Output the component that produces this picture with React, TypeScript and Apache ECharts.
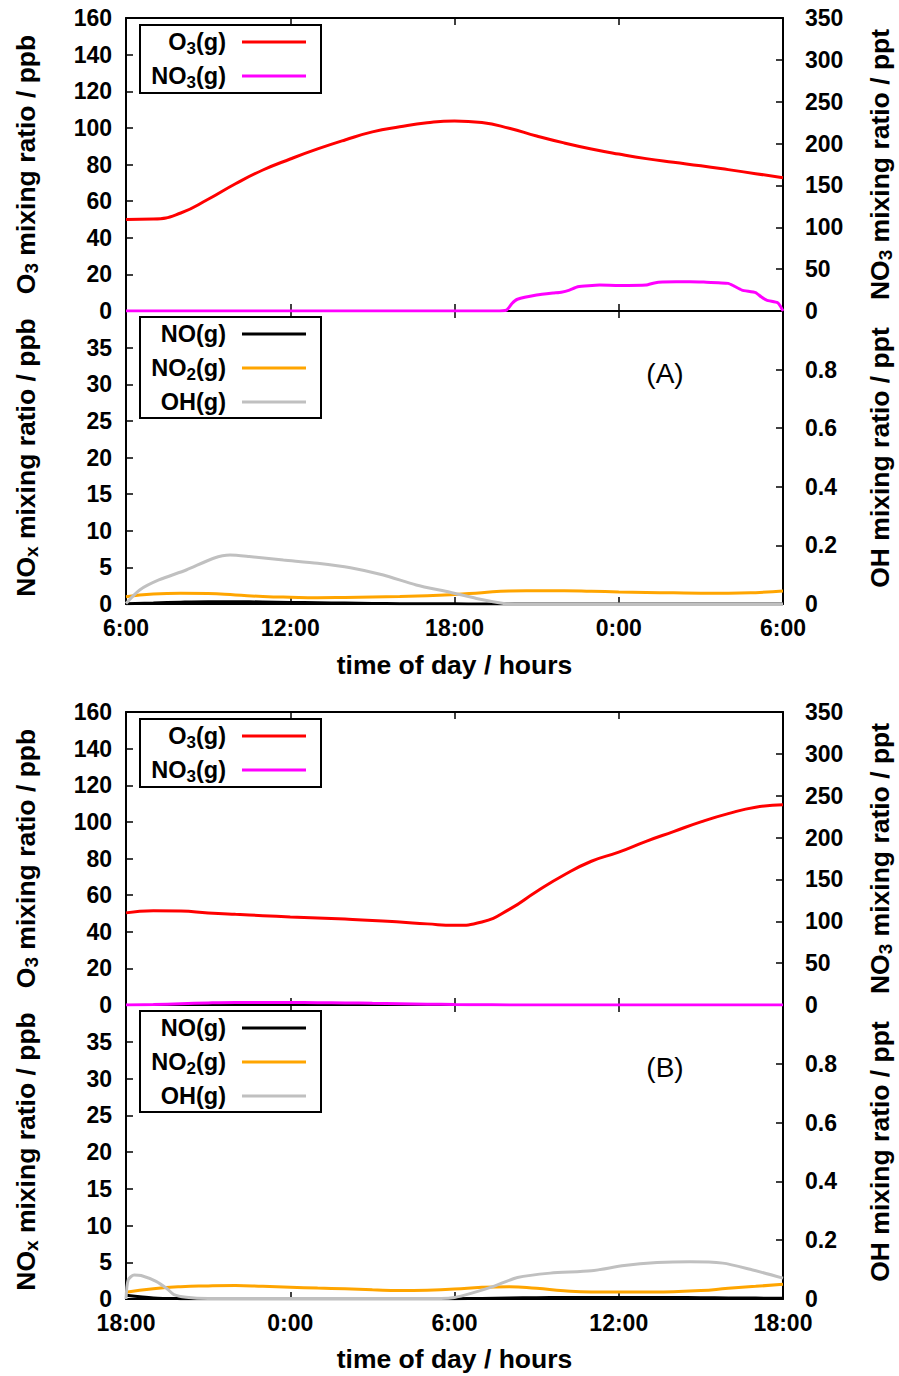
import React, { useEffect, useRef } from 'react';
import * as echarts from 'echarts';

// ---------- tick labels ----------
const xTicksA = ['6:00', '12:00', '18:00', '0:00', '6:00'];
const xTicksB = ['18:00', '0:00', '6:00', '12:00', '18:00'];

// ---------- hourly time base (hours since start of run) ----------
const hours = [0, 1, 2, 3, 4, 5, 6, 7, 8, 9, 10, 11, 12, 13, 14, 15, 16, 17, 18, 19, 20, 21, 22, 23, 24];

// ---------- Panel (A) ----------
const o3A = [50, 50.2, 53.5, 61, 69.5, 77, 83, 88.5, 93.4, 97.8, 100.6, 102.8, 103.8, 102.9, 99.8, 95.6, 91.8, 88.5, 85.7, 83.2, 81.2, 79.3, 77.2, 75, 72.8];
const no3AHours = [0, 13.5, 13.9, 14.1, 14.3, 15, 15.6, 15.9, 16.2, 16.5, 17.3, 18, 19, 19.3, 19.6, 20.6, 21.1, 22, 22.2, 22.5, 23, 23.2, 23.4, 23.8, 23.9, 24];
const no3A = [0, 0, 1, 9, 14, 19, 21.5, 22.5, 25, 29, 31, 30.5, 31, 33.5, 34.5, 35, 34.5, 33, 30, 25, 22, 17, 13, 10, 6, 0];
const noA = [0.05, 0.15, 0.25, 0.3, 0.3, 0.28, 0.22, 0.17, 0.12, 0.08, 0.05, 0.03, 0.02, 0.01, 0, 0, 0, 0, 0, 0, 0, 0, 0, 0, 0];
const no2A = [1.0, 1.35, 1.46, 1.42, 1.23, 1.03, 0.92, 0.86, 0.9, 0.97, 1.03, 1.12, 1.3, 1.55, 1.77, 1.8, 1.82, 1.75, 1.65, 1.58, 1.52, 1.47, 1.46, 1.55, 1.77];
const ohAHours = [0, 0.5, 1.2, 2.2, 3.2, 3.8, 4.5, 5.75, 7, 8.2, 9.4, 10.6, 11.84, 12.8, 13.8, 14.5, 24];
const ohA = [0.002, 0.048, 0.082, 0.116, 0.156, 0.167, 0.162, 0.15, 0.139, 0.124, 0.099, 0.065, 0.04, 0.019, 0.002, 0, 0];

// ---------- Panel (B) ----------
const o3B = [50.3, 51.5, 51.3, 50.3, 49.5, 48.8, 48.1, 47.5, 46.9, 46.2, 45.3, 44.3, 43.5, 45.3, 52.2, 62, 71, 78.5, 83.5, 89.4, 94.7, 100, 104.5, 108, 109.3];
const no3B = [0, 0.5, 1.5, 2.5, 3, 3, 3, 2.8, 2.5, 2, 1.5, 1, 0.6, 0.3, 0, 0, 0, 0, 0, 0, 0, 0, 0, 0, 0];
const noB = [0.5, 0.15, 0.05, 0.03, 0.02, 0.02, 0.02, 0.02, 0.02, 0.02, 0.02, 0.02, 0.03, 0.08, 0.15, 0.18, 0.2, 0.2, 0.2, 0.2, 0.2, 0.18, 0.15, 0.12, 0.1];
const no2B = [0.91, 1.4, 1.68, 1.78, 1.82, 1.72, 1.6, 1.48, 1.38, 1.25, 1.15, 1.2, 1.35, 1.6, 1.68, 1.45, 1.12, 0.96, 0.95, 0.96, 1.0, 1.14, 1.45, 1.72, 2.0];
const ohBHours = [0, 0.08, 0.3, 0.55, 1.1, 1.5, 1.75, 2.2, 3, 11.5, 12, 12.6, 13.4, 14.3, 15.5, 17, 18.2, 19.4, 20.6, 21.8, 22.8, 24];
const ohB = [0, 0.065, 0.082, 0.08, 0.06, 0.035, 0.015, 0.006, 0.002, 0.002, 0.005, 0.019, 0.042, 0.073, 0.088, 0.096, 0.114, 0.124, 0.127, 0.122, 0.101, 0.071];

// ---------- styling ----------
const FONT = "'Liberation Sans', Arial, Helvetica, sans-serif";
const TICK_FS = 23;
const LEG_FS = 23.5;
const TITLE_FS = 26.5;
const C_O3 = '#ff0000';
const C_NO3 = '#ff00ff';
const C_NO = '#000000';
const C_NO2 = '#ffa500';
const C_OH = '#c0c0c0';

const pair = (xs: number[], ys: number[]) => xs.map((x, i) => [x, ys[i]]);

const axisLine = { show: true, onZero: false, lineStyle: { color: '#000', width: 2 } };
const axisTick = { show: true, inside: true, length: 7, lineStyle: { color: '#000', width: 1.5 } };
const lbl = { color: '#000', fontFamily: FONT, fontWeight: 'bold', fontSize: TICK_FS };

function xAxes(grid: number, labels: string[] | null) {
  const base = {
    type: 'value', gridIndex: grid, min: 0, max: 24, interval: 6,
    axisLine, axisTick, splitLine: { show: false },
  };
  return [
    {
      ...base, position: 'bottom',
      axisLabel: labels
        ? { ...lbl, margin: 12, formatter: (v: number) => labels[Math.round(v / 6)] }
        : { show: false },
    },
    { ...base, position: 'top', axisLabel: { show: false } },
  ];
}

function yAxes(grid: number, lmax: number, lint: number, rmax: number, rint: number, hideMax: boolean) {
  const base = { type: 'value', gridIndex: grid, axisLine, axisTick, splitLine: { show: false } };
  return [
    {
      ...base, position: 'left', min: 0, max: lmax, interval: lint,
      axisLabel: { ...lbl, margin: 14, showMaxLabel: !hideMax },
    },
    {
      ...base, position: 'right', min: 0, max: rmax, interval: rint,
      axisLabel: {
        ...lbl, margin: 22, showMaxLabel: !hideMax,
        formatter: (v: number) => String(Math.round(v * 10) / 10),
      },
    },
  ];
}

function line(name: string, xi: number, yi: number, data: number[][], color: string, smooth: number) {
  return {
    name, type: 'line', xAxisIndex: xi, yAxisIndex: yi, data,
    symbol: 'none', showSymbol: false, smooth,
    lineStyle: { color, width: 3 }, itemStyle: { color },
  };
}

const rich = (fs: number) => ({
  b: { fontSize: fs, fontWeight: 'bold', fontFamily: FONT, color: '#000', lineHeight: 30, verticalAlign: 'middle' },
  s: { fontSize: Math.round(fs * 0.72), fontWeight: 'bold', fontFamily: FONT, color: '#000', lineHeight: 16, verticalAlign: 'bottom' },
});

function vTitle(x: number, y: number, text: string) {
  return {
    type: 'text', x, y, rotation: Math.PI / 2, z: 100,
    style: { text, rich: rich(TITLE_FS), align: 'center', verticalAlign: 'middle' },
  };
}

function hTitle(x: number, y: number, text: string) {
  return {
    type: 'text', x, y, z: 100,
    style: { text, fontSize: TITLE_FS, fontWeight: 'bold', fontFamily: FONT, fill: '#000', align: 'center', verticalAlign: 'middle' },
  };
}

function legend(x: number, y: number, h: number, items: { t: string; c: string }[]) {
  const children: any[] = [
    { type: 'rect', shape: { x: 0, y: 0, width: 181, height: h }, style: { fill: '#fff', stroke: '#000', lineWidth: 2 } },
  ];
  items.forEach((it, i) => {
    const dy = 17 + i * 34;
    children.push({
      type: 'text', x: 86, y: dy,
      style: { text: it.t, rich: rich(LEG_FS), align: 'right', verticalAlign: 'middle' },
    });
    children.push({
      type: 'line', shape: { x1: 102, y1: dy, x2: 166, y2: dy },
      style: { stroke: it.c, lineWidth: 3 },
    });
  });
  return { type: 'group', x, y, z: 100, children };
}

function panelLabel(x: number, y: number, text: string) {
  return {
    type: 'text', x, y, z: 100,
    style: { text, fontSize: 28, fontFamily: FONT, fill: '#000', align: 'center', verticalAlign: 'middle' },
  };
}

function buildOption() {
  const L = 126, R = 116;
  const grids = [
    { left: L, right: R, top: 18, height: 293 },
    { left: L, right: R, top: 311, height: 293 },
    { left: L, right: R, top: 712, height: 293 },
    { left: L, right: R, top: 1005, height: 294 },
  ];
  const xAxis = [
    ...xAxes(0, null), ...xAxes(1, xTicksA),
    ...xAxes(2, null), ...xAxes(3, xTicksB),
  ];
  const yAxis = [
    ...yAxes(0, 160, 20, 350, 50, false),
    ...yAxes(1, 40, 5, 1, 0.2, true),
    ...yAxes(2, 160, 20, 350, 50, false),
    ...yAxes(3, 40, 5, 1, 0.2, true),
  ];
  const series = [
    line('O3 A', 0, 0, pair(hours, o3A), C_O3, 0.5),
    line('NO3 A', 0, 1, pair(no3AHours, no3A), C_NO3, 0.15),
    line('NO A', 2, 2, pair(hours, noA), C_NO, 0.4),
    line('NO2 A', 2, 2, pair(hours, no2A), C_NO2, 0.5),
    line('OH A', 2, 3, pair(ohAHours, ohA), C_OH, 0.25),
    line('O3 B', 4, 4, pair(hours, o3B), C_O3, 0.5),
    line('NO3 B', 4, 5, pair(hours, no3B), C_NO3, 0.4),
    line('NO B', 6, 6, pair(hours, noB), C_NO, 0.3),
    line('NO2 B', 6, 6, pair(hours, no2B), C_NO2, 0.5),
    line('OH B', 6, 7, pair(ohBHours, ohB), C_OH, 0.25),
  ];
  const off = 694;
  const graphic: any[] = [];
  [0, off].forEach((o, k) => {
    graphic.push(vTitle(26, 164.5 + o, '{b|O}{s|3}{b| mixing ratio / ppb}'));
    graphic.push(vTitle(880, 164.5 + o, '{b|NO}{s|3}{b| mixing ratio / ppt}'));
    graphic.push(vTitle(26, 457.5 + o, '{b|NO}{s|x}{b| mixing ratio / ppb}'));
    graphic.push(vTitle(880, 457.5 + o, '{b|OH mixing ratio / ppt}'));
    graphic.push(hTitle(454.5, 665 + o, 'time of day / hours'));
    graphic.push(legend(140, 25 + o, 68, [
      { t: '{b|O}{s|3}{b|(g)}', c: C_O3 },
      { t: '{b|NO}{s|3}{b|(g)}', c: C_NO3 },
    ]));
    graphic.push(legend(140, 317 + o, 101, [
      { t: '{b|NO(g)}', c: C_NO },
      { t: '{b|NO}{s|2}{b|(g)}', c: C_NO2 },
      { t: '{b|OH(g)}', c: C_OH },
    ]));
    graphic.push(panelLabel(665, 373 + o, k === 0 ? '(A)' : '(B)'));
  });
  return {
    animation: false,
    backgroundColor: '#fff',
    grid: grids,
    xAxis,
    yAxis,
    series,
    graphic,
  };
}

export default function App() {
  const ref = useRef<HTMLDivElement>(null);
  useEffect(() => {
    if (!ref.current) return;
    const chart = echarts.init(ref.current, undefined, { renderer: 'svg' });
    chart.setOption(buildOption() as any);
    return () => chart.dispose();
  }, []);
  return (
    <div
      ref={ref}
      style={{ position: 'absolute', left: 0, top: 0, width: 899, height: 1376, background: '#fff' }}
    />
  );
}
